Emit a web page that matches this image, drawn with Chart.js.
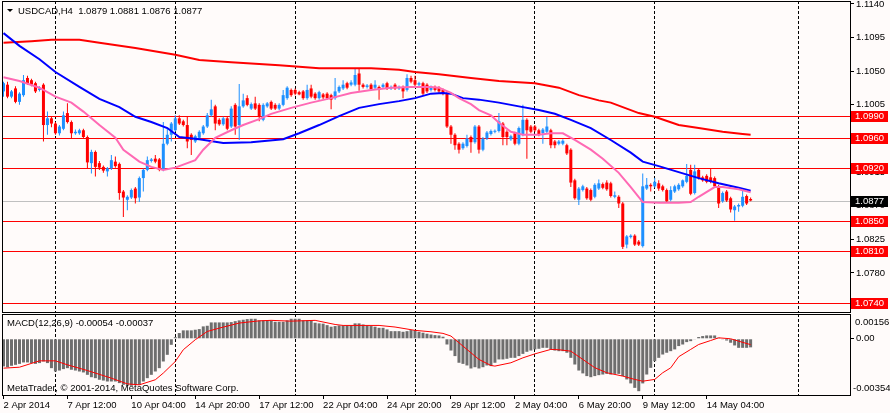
<!DOCTYPE html>
<html>
<head>
<meta charset="utf-8">
<title>USDCAD,H4</title>
<script src="https://cdn.jsdelivr.net/npm/chart.js@4.4.1/dist/chart.umd.min.js"></script>
<style>
  html, body { margin: 0; padding: 0; background: #fffbfa; }
  #wrap { position: relative; width: 890px; height: 413px; background: #fffbfa; overflow: hidden; }
  #priceBox { position: absolute; left: 0; top: 0; width: 890px; height: 313px; }
  #macdBox { position: absolute; left: 0; top: 313px; width: 890px; height: 100px; }
</style>
</head>
<body>
<div id="wrap">
  <div id="priceBox"><canvas id="priceChart"></canvas></div>
  <div id="macdBox"><canvas id="macdChart"></canvas></div>
</div>
<script>
/* --------------- Candles, one per H4 bar (bar 0 = 2 Apr 2014) --------------- */
const openP = [
  1.1023,1.1032,1.1016,1.1027,1.1009,1.1018,1.1041,1.1038,1.1034,1.1025,
  1.1032,1.0978,1.0987,1.0980,1.0967,1.0973,1.0994,1.0982,1.0967,1.0967,
  1.0971,1.0962,1.0927,1.0942,1.0927,1.0922,1.0916,1.0920,1.0929,1.0926,
  1.0889,1.0878,1.0881,1.0893,1.0881,1.0907,1.0918,1.0930,1.0933,1.0932,
  1.0918,1.0953,1.0965,1.0971,1.0987,1.0983,1.0978,1.0965,1.0956,1.0961,
  1.0967,1.0976,1.0991,1.1003,1.0985,1.0979,1.0987,1.0976,1.1005,1.0978,
  1.1003,1.1014,1.1000,1.1007,1.1005,1.0985,1.1003,1.1009,1.1005,1.1000,
  1.1005,1.1014,1.1025,1.1025,1.1022,1.1023,1.1014,1.1027,1.1020,1.1014,
  1.1019,1.1020,1.1018,1.1014,1.1023,1.1027,1.1034,1.1032,1.1032,1.1047,
  1.1032,1.1029,1.1032,1.1028,1.1029,1.1029,1.1034,1.1027,1.1032,1.1027,
  1.1029,1.1025,1.1041,1.1038,1.1032,1.1034,1.1032,1.1025,1.1029,1.1028,
  1.1025,1.1020,1.0976,1.0965,1.0953,1.0947,1.0950,1.0962,1.0955,1.0976,
  1.0945,1.0960,1.0966,1.0969,1.0970,1.0980,1.0969,1.0959,1.0967,1.0953,
  1.0965,1.0985,1.0976,1.0976,1.0971,1.0967,1.0969,1.0971,1.0956,1.0953,
  1.0953,1.0951,1.0945,1.0904,1.0878,1.0891,1.0893,1.0891,1.0882,1.0893,
  1.0899,1.0901,1.0900,1.0882,1.0882,1.0873,1.0818,1.0828,1.0830,1.0822,
  1.0816,1.0893,1.0898,1.0896,1.0900,1.0896,1.0891,1.0878,1.0889,1.0892,
  1.0896,1.0902,1.0918,1.0887,1.0918,1.0908,1.0910,1.0908,1.0907,1.0896,
  1.0876,1.0889,1.0880,1.0864,1.0869,1.0870,1.0883,1.0879
];
const highP = [
  1.1036,1.1036,1.1025,1.1030,1.1022,1.1045,1.1044,1.1040,1.1036,1.1030,
  1.1034,1.0996,1.0990,1.0982,1.0978,1.0996,1.1007,1.0984,1.0972,1.0973,
  1.0973,1.0964,1.0945,1.0944,1.0930,1.0924,1.0922,1.0938,1.0936,1.0928,
  1.0891,1.0884,1.0893,1.0895,1.0909,1.0920,1.0936,1.0934,1.0938,1.0934,
  1.0982,1.0973,1.0982,1.0991,1.0991,1.0985,1.0989,1.0967,1.0965,1.0971,
  1.0978,1.0994,1.1012,1.1005,1.0987,1.0989,1.0989,1.1003,1.1007,1.1033,
  1.1020,1.1018,1.1008,1.1016,1.1007,1.1007,1.1009,1.1011,1.1007,1.1007,
  1.1025,1.1030,1.1027,1.1027,1.1024,1.1025,1.1032,1.1032,1.1022,1.1024,
  1.1021,1.1022,1.1020,1.1041,1.1031,1.1038,1.1036,1.1038,1.1054,1.1054,
  1.1034,1.1033,1.1034,1.1038,1.1031,1.1034,1.1036,1.1031,1.1034,1.1031,
  1.1031,1.1046,1.1044,1.1044,1.1036,1.1036,1.1034,1.1031,1.1031,1.1030,
  1.1027,1.1022,1.0978,1.0967,1.0955,1.0955,1.0965,1.0964,1.0978,1.0978,
  1.0962,1.0970,1.0972,1.0972,1.0994,1.0982,1.0971,1.0965,1.0969,1.0976,
  1.1005,1.0987,1.0978,1.0978,1.0973,1.0974,1.0989,1.0973,1.0958,1.0958,
  1.0959,1.0953,1.0947,1.0906,1.0895,1.0898,1.0895,1.0893,1.0900,1.0905,
  1.0901,1.0904,1.0902,1.0889,1.0884,1.0875,1.0831,1.0832,1.0832,1.0824,
  1.0913,1.0907,1.0900,1.0907,1.0904,1.0898,1.0893,1.0896,1.0898,1.0900,
  1.0905,1.0926,1.0925,1.0925,1.0920,1.0910,1.0912,1.0920,1.0909,1.0898,
  1.0889,1.0891,1.0882,1.0871,1.0873,1.0891,1.0885,1.0881
];
const lowP = [
  1.1016,1.1014,1.1014,1.1007,1.1005,1.1016,1.1032,1.1030,1.1021,1.1023,
  1.0956,1.0965,1.0975,1.0965,1.0964,1.0971,1.0980,1.0960,1.0965,1.0965,
  1.0960,1.0920,1.0913,1.0909,1.0918,1.0914,1.0909,1.0918,1.0921,1.0878,
  1.0855,1.0864,1.0879,1.0873,1.0875,1.0889,1.0916,1.0928,1.0927,1.0916,
  1.0916,1.0951,1.0956,1.0969,1.0978,1.0976,1.0947,1.0938,1.0954,1.0959,
  1.0965,1.0974,1.0989,1.0971,1.0977,1.0977,1.0971,1.0974,1.0965,1.0958,
  1.1001,1.1003,1.0998,1.0998,1.0983,1.0983,1.1001,1.0998,1.0998,1.0998,
  1.1003,1.1012,1.1016,1.1018,1.1018,1.1012,1.1012,1.1014,1.1012,1.1012,
  1.1013,1.1012,1.0999,1.1012,1.1021,1.1025,1.1026,1.1030,1.1030,1.1024,
  1.1027,1.1027,1.1024,1.1026,1.1012,1.1027,1.1025,1.1025,1.1025,1.1025,
  1.1014,1.1023,1.1034,1.1030,1.1030,1.1018,1.1021,1.1023,1.1023,1.1021,
  1.1018,1.0974,1.0953,1.0945,1.0940,1.0945,1.0948,1.0941,1.0953,1.0940,
  1.0943,1.0958,1.0964,1.0967,1.0968,1.0951,1.0951,1.0957,1.0951,1.0951,
  1.0963,1.0933,1.0967,1.0969,1.0963,1.0953,1.0967,1.0947,1.0947,1.0951,
  1.0951,1.0938,1.0895,1.0878,1.0871,1.0889,1.0878,1.0876,1.0880,1.0891,
  1.0892,1.0890,1.0881,1.0880,1.0867,1.0812,1.0813,1.0826,1.0816,1.0816,
  1.0814,1.0891,1.0889,1.0894,1.0890,1.0889,1.0874,1.0876,1.0887,1.0890,
  1.0894,1.0900,1.0884,1.0885,1.0905,1.0902,1.0900,1.0900,1.0894,1.0867,
  1.0874,1.0875,1.0861,1.0850,1.0862,1.0868,1.0871,1.0876
];
const closeP = [
  1.1034,1.1016,1.1023,1.1009,1.1020,1.1038,1.1034,1.1032,1.1023,1.1027,
  1.0978,1.0987,1.0980,1.0967,1.0976,1.0991,1.0982,1.0967,1.0969,1.0971,
  1.0962,1.0928,1.0942,1.0922,1.0921,1.0917,1.0920,1.0931,1.0923,1.0887,
  1.0881,1.0882,1.0891,1.0880,1.0907,1.0918,1.0931,1.0932,1.0929,1.0918,
  1.0953,1.0965,1.0980,1.0987,1.0980,1.0978,1.0956,1.0958,1.0963,1.0969,
  1.0976,1.0991,1.0999,1.0980,1.0979,1.0987,1.0973,1.1000,1.0976,1.1003,
  1.1011,1.1005,1.1006,1.1000,1.0989,1.1005,1.1007,1.1000,1.1000,1.1005,
  1.1018,1.1028,1.1018,1.1020,1.1019,1.1014,1.1025,1.1016,1.1014,1.1022,
  1.1015,1.1014,1.1012,1.1023,1.1029,1.1032,1.1028,1.1035,1.1045,1.1032,
  1.1029,1.1031,1.1026,1.1032,1.1025,1.1032,1.1027,1.1029,1.1027,1.1029,
  1.1023,1.1041,1.1036,1.1032,1.1034,1.1020,1.1023,1.1029,1.1025,1.1023,
  1.1020,1.0976,1.0965,1.0951,1.0945,1.0953,1.0960,1.0955,1.0976,1.0945,
  1.0960,1.0968,1.0970,1.0970,1.0983,1.0962,1.0962,1.0963,1.0953,1.0974,
  1.0985,1.0971,1.0969,1.0971,1.0965,1.0972,1.0976,1.0951,1.0951,1.0956,
  1.0957,1.0940,1.0901,1.0880,1.0893,1.0896,1.0880,1.0878,1.0898,1.0900,
  1.0894,1.0892,1.0883,1.0884,1.0873,1.0815,1.0829,1.0830,1.0818,1.0818,
  1.0896,1.0898,1.0896,1.0902,1.0893,1.0891,1.0876,1.0891,1.0896,1.0898,
  1.0904,1.0910,1.0886,1.0916,1.0907,1.0904,1.0902,1.0902,1.0896,1.0873,
  1.0887,1.0877,1.0865,1.0869,1.0871,1.0882,1.0873,1.0877
];

const slowMA = [
  [0,1.1088],[7,1.1090],[12,1.1092],[19,1.1092],[24,1.1088],[33,1.1081],[43,1.1072],
  [49,1.1065],[57,1.1062],[69,1.1058],[74,1.1056],[79,1.1054],[92,1.1054],[99,1.1052],
  [103,1.1049],[109,1.1046],[117,1.1041],[124,1.1037],[133,1.1034],[139,1.1028],
  [144,1.1018],[149,1.1011],[152,1.1008],[159,1.0994],[163,1.0989],[169,1.0978],
  [174,1.0974],[180,1.0969],[185,1.0966],[187,1.0965]
];
const midMA = [
  [0,1.1101],[4,1.1084],[9,1.1066],[13,1.1049],[19,1.1029],[24,1.1013],[29,1.1002],
  [33,1.0989],[37,1.0982],[41,1.0974],[44,1.0962],[49,1.0959],[55,1.0954],[62,1.0955],
  [70,1.0959],[74,1.0967],[79,1.0978],[84,1.0990],[89,1.1001],[94,1.1006],[99,1.1010],
  [103,1.1014],[107,1.1020],[110,1.1021],[112,1.1020],[115,1.1014],[119,1.1012],
  [124,1.1008],[129,1.1003],[134,1.0998],[138,1.0993],[142,1.0985],[147,1.0974],
  [152,1.0958],[157,1.0941],[160,1.0929],[164,1.0923],[169,1.0915],[174,1.0907],
  [179,1.0900],[184,1.0894],[187,1.0890]
];
const fastMA = [
  [0,1.1042],[4,1.1037],[9,1.1028],[13,1.1016],[17,1.1008],[20,1.0996],[24,1.0978],
  [28,1.0961],[30,1.0945],[34,1.0929],[37,1.0922],[40,1.0918],[43,1.0921],[45,1.0925],
  [48,1.0931],[50,1.0945],[53,1.0961],[57,1.0971],[60,1.0978],[64,1.0986],[67,1.0993],
  [72,1.1001],[77,1.1008],[82,1.1014],[87,1.1021],[92,1.1025],[97,1.1028],[102,1.1029],
  [107,1.1029],[109,1.1028],[112,1.1021],[114,1.1014],[117,1.1006],[119,1.0998],
  [122,1.0991],[124,1.0981],[127,1.0969],[130,1.0965],[134,1.0965],[137,1.0967],
  [140,1.0967],[143,1.0958],[147,1.0945],[150,1.0933],[154,1.0914],[157,1.0895],
  [160,1.0875],[164,1.0874],[169,1.0874],[172,1.0875],[174,1.0882],[178,1.0895],
  [180,1.0895],[184,1.0892],[187,1.0888]
];

/* --------------- MACD(12,26,9) --------------- */
const macdHist = [
  -0.00174,-0.00179,-0.00170,-0.00164,-0.00158,-0.00149,-0.00149,-0.00153,-0.00158,-0.00153,
  -0.00143,-0.00153,-0.00185,-0.00206,-0.00200,-0.00191,-0.00185,-0.00195,-0.00200,-0.00206,
  -0.00212,-0.00227,-0.00242,-0.00248,-0.00258,-0.00263,-0.00269,-0.00269,-0.00269,-0.00279,
  -0.00290,-0.00296,-0.00296,-0.00292,-0.00290,-0.00269,-0.00248,-0.00227,-0.00206,-0.00185,
  -0.00143,-0.00101,-0.00038,0.00010,0.00036,0.00053,0.00053,0.00053,0.00057,0.00061,
  0.00078,0.00082,0.00103,0.00103,0.00103,0.00103,0.00103,0.00105,0.00111,0.00116,
  0.00120,0.00124,0.00126,0.00126,0.00116,0.00116,0.00116,0.00116,0.00107,0.00107,
  0.00107,0.00116,0.00126,0.00126,0.00126,0.00116,0.00116,0.00116,0.00101,0.00097,
  0.00095,0.00086,0.00076,0.00080,0.00084,0.00084,0.00084,0.00084,0.00097,0.00097,
  0.00090,0.00084,0.00080,0.00076,0.00069,0.00069,0.00059,0.00048,0.00048,0.00048,
  0.00044,0.00048,0.00055,0.00055,0.00044,0.00038,0.00032,0.00027,0.00023,0.00021,
  0.00013,-0.00036,-0.00074,-0.00109,-0.00151,-0.00158,-0.00168,-0.00187,-0.00179,-0.00187,
  -0.00179,-0.00168,-0.00172,-0.00151,-0.00130,-0.00130,-0.00126,-0.00120,-0.00120,-0.00109,
  -0.00095,-0.00082,-0.00074,-0.00067,-0.00063,-0.00057,-0.00057,-0.00067,-0.00074,-0.00078,
  -0.00078,-0.00088,-0.00120,-0.00162,-0.00200,-0.00218,-0.00235,-0.00242,-0.00235,-0.00229,
  -0.00225,-0.00221,-0.00225,-0.00221,-0.00221,-0.00235,-0.00256,-0.00281,-0.00309,-0.00330,
  -0.00281,-0.00225,-0.00183,-0.00141,-0.00120,-0.00099,-0.00088,-0.00078,-0.00067,-0.00046,
  -0.00036,-0.00021,-0.00015,-0.00004,0.00011,0.00017,0.00021,0.00021,0.00021,0.00006,
  -0.00002,-0.00011,-0.00025,-0.00042,-0.00057,-0.00057,-0.00057,-0.00054
];
const macdSignal = [
  [0,-0.00185],[4,-0.00179],[9,-0.00139],[13,-0.00139],[16,-0.00164],[21,-0.00200],
  [27,-0.00248],[31,-0.00284],[34,-0.00290],[38,-0.00258],[40,-0.00216],[43,-0.00143],
  [45,-0.00069],[48,-0.00006],[51,0.00046],[54,0.00067],[59,0.00099],[64,0.00113],
  [67,0.00116],[72,0.00111],[78,0.00116],[83,0.00090],[85,0.00084],[94,0.00084],
  [98,0.00074],[103,0.00053],[107,0.00044],[110,0.00034],[112,0.00017],[114,-0.00025],
  [117,-0.00088],[119,-0.00130],[122,-0.00168],[123,-0.00172],[127,-0.00151],[130,-0.00120],
  [133,-0.00095],[137,-0.00067],[139,-0.00069],[142,-0.00078],[145,-0.00130],[148,-0.00182],
  [151,-0.00214],[155,-0.00235],[158,-0.00256],[160,-0.00267],[163,-0.00256],[165,-0.00214],
  [167,-0.00183],[169,-0.00113],[172,-0.00067],[174,-0.00036],[177,-0.00011],[179,0.00006],
  [182,0.00000],[184,-0.00015],[187,-0.00037]
];

/* --------------- Levels, ticks, time labels --------------- */
const levels = [1.0990, 1.0960, 1.0920, 1.0850, 1.0810, 1.0740];
const lastPrice = 1.0877;
const priceTicks = [1.1140, 1.1095, 1.1050, 1.1005, 1.0960, 1.0915, 1.0870, 1.0825, 1.0780, 1.0735];
const timeLabels = ["2 Apr 2014", "7 Apr 12:00", "10 Apr 04:00", "14 Apr 20:00", "17 Apr 12:00",
  "22 Apr 04:00", "24 Apr 20:00", "29 Apr 12:00", "2 May 04:00", "6 May 20:00",
  "9 May 12:00", "14 May 04:00"];
const timeLabelBars = [0, 16, 32, 48, 64, 80, 96, 112, 128, 144, 160, 176];
const weekBars = [13, 43, 73, 103, 133, 163, 199];

const BULL = "#1e90ff";
const BEAR = "#ff0000";
const FONT = "'Liberation Sans', Arial, sans-serif";
const FONT_PX = 9.5;
const X_MIN = -0.375, X_MAX = 211.875;

Chart.defaults.font.family = FONT;
Chart.defaults.font.size = FONT_PX;
Chart.defaults.color = "#000";

/* --------------- Shared drawing helpers --------------- */
function drawWeekLines(chart) {
    const { ctx, chartArea: a, scales: { x } } = chart;
    ctx.save();
    ctx.strokeStyle = "#000";
    ctx.lineWidth = 1;
    ctx.setLineDash([3, 2]);
    weekBars.forEach(b => {
        const px = Math.floor(x.getPixelForValue(b)) + 0.5;
        ctx.beginPath();
        ctx.moveTo(px, a.top);
        ctx.lineTo(px, a.bottom);
        ctx.stroke();
    });
    ctx.restore();
}

function drawFrame(chart) {
    const { ctx, chartArea: a } = chart;
    ctx.save();
    ctx.strokeStyle = "#000";
    ctx.lineWidth = 1;
    ctx.strokeRect(a.left + 0.5, a.top + 0.5, a.right - a.left, a.bottom - a.top);
    ctx.restore();
}

function priceBox(ctx, y, text, bg) {
    const cy = Math.round(y);
    ctx.fillStyle = bg;
    ctx.fillRect(851, cy - 5, 37, 11);
    ctx.fillStyle = "#fff";
    ctx.textBaseline = "middle";
    ctx.textAlign = "left";
    ctx.fillText(text, 855, cy + 0.5);
}

// keep the plot area edge to edge: no room reserved for the end labels
function noEndPadding(s) {
    s.paddingTop = 0;
    s.paddingBottom = 0;
    s.paddingLeft = 0;
    s.paddingRight = 0;
}

/* --------------- Price panel --------------- */
const pricePlugin = {
    id: "pricePlugin",
    beforeDatasetsDraw(chart) {
        const { ctx, chartArea: a, scales: { y } } = chart;
        drawWeekLines(chart);
        ctx.save();
        ctx.lineWidth = 1;
        ctx.strokeStyle = "#c0c0c0";
        let py = Math.round(y.getPixelForValue(lastPrice)) + 0.5;
        ctx.beginPath(); ctx.moveTo(a.left, py); ctx.lineTo(a.right, py); ctx.stroke();
        ctx.strokeStyle = "#ff0000";
        levels.forEach(lv => {
            py = Math.round(y.getPixelForValue(lv)) + 0.5;
            ctx.beginPath(); ctx.moveTo(a.left, py); ctx.lineTo(a.right, py); ctx.stroke();
        });
        ctx.restore();
    },
    afterDraw(chart) {
        const { ctx, scales: { y } } = chart;
        drawFrame(chart);
        ctx.save();
        ctx.font = FONT_PX + "px " + FONT;
        levels.forEach(lv => priceBox(ctx, y.getPixelForValue(lv), lv.toFixed(4), "#ff0000"));
        priceBox(ctx, y.getPixelForValue(lastPrice), lastPrice.toFixed(4), "#000");
        // symbol caption
        ctx.fillStyle = "#000";
        ctx.beginPath();
        ctx.moveTo(7, 9); ctx.lineTo(13, 9); ctx.lineTo(10, 12); ctx.closePath();
        ctx.fill();
        ctx.textBaseline = "middle";
        ctx.fillText("USDCAD,H4  " + [openP, highP, lowP, closeP].map(s => s[s.length - 1].toFixed(4)).join(" "), 18, 11);
        ctx.restore();
    }
};

const candleColor = c => closeP[c.dataIndex] >= openP[c.dataIndex] ? BULL : BEAR;
const maLine = (pts, color, order) => ({
    type: "line",
    data: pts.map(([x, y]) => ({ x, y })),
    borderColor: color,
    borderWidth: 2,
    pointRadius: 0,
    tension: 0,
    order: order
});

let priceChart = new Chart(document.getElementById("priceChart"), {
    type: "bar",
    plugins: [pricePlugin],
    data: {
        datasets: [
            maLine(fastMA, "#ff69b4", 1),
            maLine(midMA, "#0000ff", 2),
            maLine(slowMA, "#ff0000", 3),
            {
                data: openP.map((o, i) => ({ x: i, y: [o, closeP[i]] })),
                backgroundColor: candleColor,
                barThickness: 3, minBarLength: 1, grouped: false, inflateAmount: 0, order: 4
            },
            {
                data: lowP.map((l, i) => ({ x: i, y: [l, highP[i]] })),
                backgroundColor: candleColor,
                barThickness: 1, minBarLength: 1, grouped: false, inflateAmount: 0, order: 5
            }
        ]
    },
    options: {
        responsive: true,
        maintainAspectRatio: false,
        animation: false,
        devicePixelRatio: 1,
        events: [],
        layout: { padding: { left: 2, top: 1, right: 0, bottom: 1 } },
        plugins: { legend: { display: false }, tooltip: { enabled: false } },
        scales: {
            x: { type: "linear", min: X_MIN, max: X_MAX, offset: false, display: false, grid: { offset: false } },
            y: {
                position: "right", min: 1.07278, max: 1.11440, beginAtZero: false, bounds: "data",
                afterFit: s => { s.width = 40; noEndPadding(s); },
                afterBuildTicks: s => { s.ticks = priceTicks.map(v => ({ value: v })); },
                ticks: { callback: v => v.toFixed(4), padding: 2, autoSkip: false },
                grid: { drawOnChartArea: false, tickLength: 4, color: "#000" },
                border: { display: false }
            }
        }
    }
});

/* --------------- MACD panel --------------- */
const MACD_MAX = 0.00156, MACD_MIN = -0.00354;
const macdPlugin = {
    id: "macdPlugin",
    beforeDatasetsDraw(chart) {
        drawWeekLines(chart);
    },
    afterDraw(chart) {
        const { ctx, chartArea: a } = chart;
        drawFrame(chart);
        ctx.save();
        ctx.font = FONT_PX + "px " + FONT;
        ctx.fillStyle = "#000";
        ctx.textAlign = "left";
        ctx.textBaseline = "middle";
        ctx.fillText("MACD(12,26,9) " + macdHist[macdHist.length - 1].toFixed(5) + " " +
            macdSignal[macdSignal.length - 1][1].toFixed(5), 7, 10);
        ctx.fillText("MetaTrader, \u00a9 2001-2014, MetaQuotes Software Corp.", 7, 75);
        ctx.fillText(MACD_MAX.toFixed(5), 855, a.top + 8);
        ctx.fillText(MACD_MIN.toFixed(5), 853, a.bottom - 7);
        ctx.restore();
    }
};

let macdChart = new Chart(document.getElementById("macdChart"), {
    type: "bar",
    plugins: [macdPlugin],
    data: {
        datasets: [
            {
                type: "line",
                data: macdSignal.map(([x, y]) => ({ x, y })),
                borderColor: "#ff0000",
                borderWidth: 1,
                pointRadius: 0,
                tension: 0,
                order: 1
            },
            {
                data: macdHist.map((v, i) => ({ x: i, y: v })),
                backgroundColor: "#6e6e6e",
                barThickness: 3, grouped: false, inflateAmount: 0, order: 2
            }
        ]
    },
    options: {
        responsive: true,
        maintainAspectRatio: false,
        animation: false,
        devicePixelRatio: 1,
        events: [],
        layout: { padding: { left: 2, top: 1, right: 0, bottom: 0 } },
        plugins: { legend: { display: false }, tooltip: { enabled: false } },
        scales: {
            x: {
                type: "linear", min: X_MIN, max: X_MAX, offset: false,
                afterFit: s => { s.height = 18; noEndPadding(s); },
                afterBuildTicks: s => { s.ticks = timeLabelBars.map(v => ({ value: v })); },
                ticks: {
                    align: "start", maxRotation: 0, autoSkip: false, padding: 1,
                    callback: v => {
                        const k = timeLabelBars.indexOf(v);
                        return k >= 0 ? timeLabels[k] : "";
                    }
                },
                grid: { drawOnChartArea: false, tickLength: 4, color: "#000", offset: false },
                border: { display: false }
            },
            y: {
                position: "right", min: MACD_MIN, max: MACD_MAX, beginAtZero: false, bounds: "data",
                afterFit: s => { s.width = 40; noEndPadding(s); },
                afterBuildTicks: s => { s.ticks = [{ value: 0 }]; },
                ticks: { callback: v => v.toFixed(2), padding: 2 },
                grid: { drawOnChartArea: false, tickLength: 4, color: "#000" },
                border: { display: false }
            }
        }
    }
});
</script>
</body>
</html>
